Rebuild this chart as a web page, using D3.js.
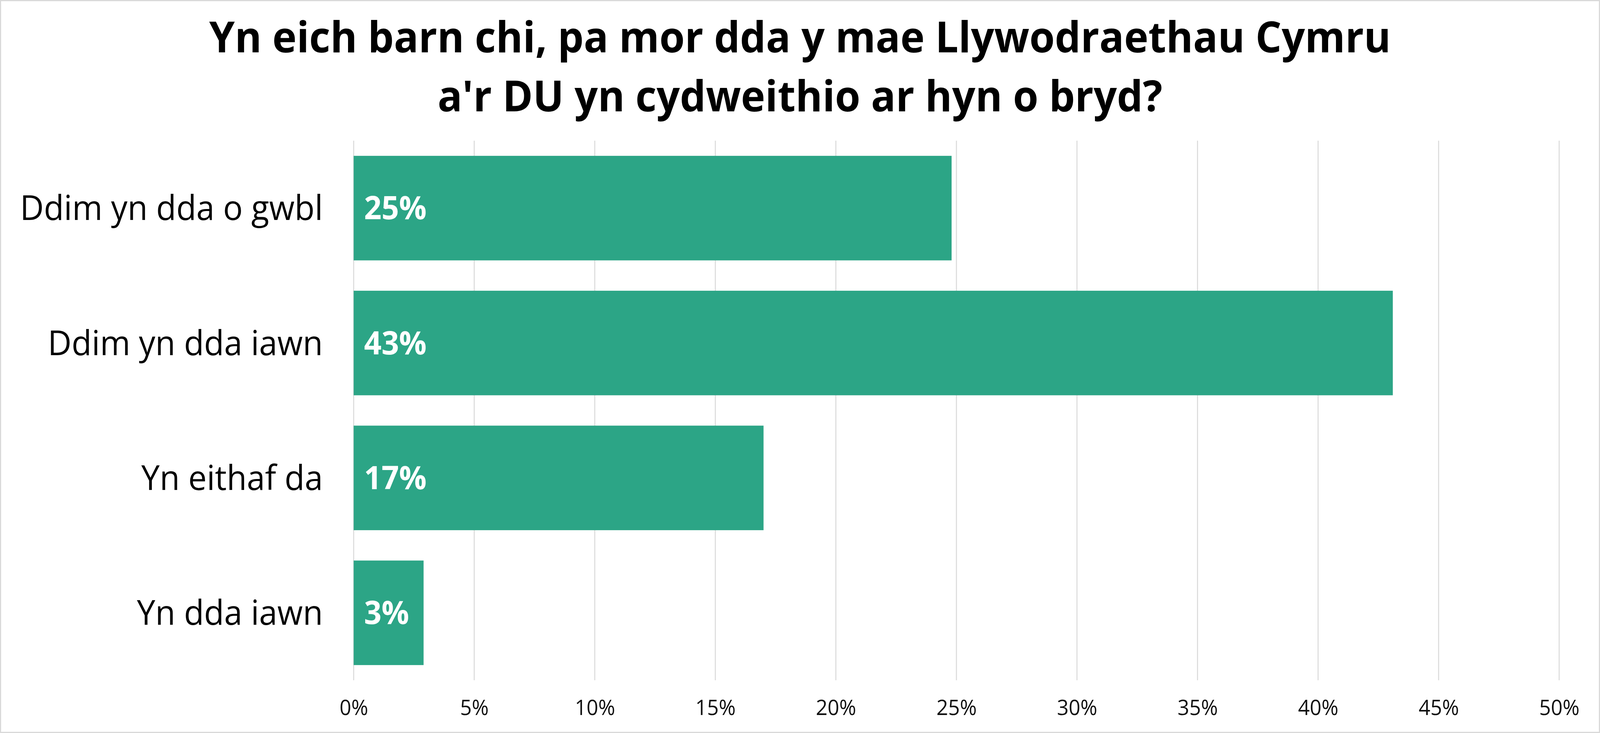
<!DOCTYPE html>
<html>
<head>
<meta charset="utf-8">
<script src="https://cdn.jsdelivr.net/npm/d3@7"></script>
<style>
  html, body { margin: 0; padding: 0; background: #fff; overflow: hidden; }
  svg { display: block; width: 100vw; height: 100vh; }
</style>
</head>
<body>
<svg id="chart" viewBox="0 0 4291 1876" preserveAspectRatio="none"></svg>
<script>
'use strict';
var titleLines = ['Yn eich barn chi, pa mor dda y mae Llywodraethau Cymru', 'a\'r DU yn cydweithio ar hyn o bryd?'];
var categories = ['Ddim yn dda o gwbl', 'Ddim yn dda iawn', 'Yn eithaf da', 'Yn dda iawn'];
var values = [24.8, 43.1, 17.0, 2.9];
var tickValues = [0, 5, 10, 15, 20, 25, 30, 35, 40, 45, 50];

var W = 4291, H = 1876;
var font = '"Open Sans", "Noto Sans", sans-serif';
var svg = d3.select('#chart');

svg.append('rect').attr('x', 1.5).attr('y', 1.5).attr('width', W - 3).attr('height', H - 3)
  .style('fill', '#fff').style('stroke', '#d9d9d9').style('stroke-width', 3);

var x = d3.scaleLinear().domain([0, 50]).range([948.5, 4181.5]);
var y = d3.scaleBand().domain(categories).range([360, 1741]).paddingInner(0.225).paddingOuter(0.1125);

// title
svg.append('g').selectAll('text').data(titleLines).enter().append('text')
  .attr('x', W / 2).attr('y', function (d, i) { return 134 + i * 151; })
  .attr('text-anchor', 'middle')
  .style('font-family', font).style('font-weight', 700).style('font-size', '110px').style('fill', '#000')
  .text(function (d) { return d; });

// gridlines
svg.append('g').selectAll('line').data(tickValues).enter().append('line')
  .attr('x1', function (d) { return x(d); }).attr('x2', function (d) { return x(d); })
  .attr('y1', 360).attr('y2', 1741)
  .style('stroke', '#d9d9d9').style('stroke-width', 2.6);

// x axis labels
var xAxis = svg.append('g').attr('transform', 'translate(0,1741)')
  .call(d3.axisBottom(x).tickValues(tickValues).tickSize(0).tickPadding(0).tickFormat(function (d) { return d + '%'; }));
xAxis.select('.domain').remove();
xAxis.selectAll('text').attr('y', 89).attr('dy', 0)
  .style('font-family', font).style('font-size', '55px').style('fill', '#111');

// bars
svg.append('g').selectAll('rect').data(values).enter().append('rect')
  .attr('x', x(0)).attr('y', function (d, i) { return y(categories[i]); })
  .attr('width', function (d) { return x(d) - x(0); }).attr('height', y.bandwidth())
  .style('fill', '#2ca586');

// category labels
var yAxis = svg.append('g').attr('transform', 'translate(866,0)')
  .call(d3.axisLeft(y).tickSize(0).tickPadding(0));
yAxis.select('.domain').remove();
yAxis.selectAll('text').attr('dy', '0.35em')
  .style('font-family', font).style('font-size', '88px').style('fill', '#000');

// value labels
svg.append('g').selectAll('text').data(values).enter().append('text')
  .attr('x', x(0) + 28).attr('y', function (d, i) { return y(categories[i]) + y.bandwidth() / 2; })
  .attr('dy', '0.35em')
  .style('font-family', font).style('font-weight', 700).style('font-size', '82px').style('fill', '#fff')
  .text(function (d) { return Math.round(d) + '%'; });
</script>
</body>
</html>
